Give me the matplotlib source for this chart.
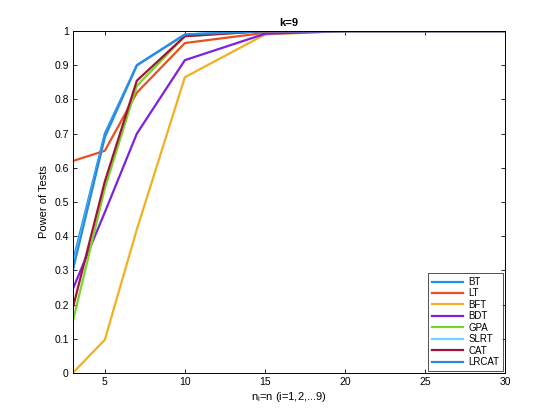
import matplotlib
matplotlib.use("Agg")
import matplotlib.pyplot as plt

plt.rcParams['font.family'] = ['Liberation Sans', 'DejaVu Sans']

# sample sizes n
n_vals = [3, 5, 7, 10, 15, 20, 30]

# power of each test
bt    = [0.325, 0.700, 0.900, 0.990, 1.000, 1.000, 1.000]
lt    = [0.620, 0.650, 0.820, 0.965, 0.995, 1.000, 1.000]
bft   = [0.000, 0.097, 0.420, 0.865, 0.990, 1.000, 1.000]
bdt   = [0.245, 0.470, 0.700, 0.915, 0.992, 1.000, 1.000]
gpa   = [0.150, 0.540, 0.840, 0.985, 1.000, 1.000, 1.000]
slrt  = [0.310, 0.690, 0.900, 0.990, 1.000, 1.000, 1.000]
cat   = [0.190, 0.560, 0.855, 0.985, 1.000, 1.000, 1.000]
lrcat = [0.300, 0.690, 0.900, 0.990, 1.000, 1.000, 1.000]

names = ['BT', 'LT', 'BFT', 'BDT', 'GPA', 'SLRT', 'CAT', 'LRCAT']
series = [bt, lt, bft, bdt, gpa, slrt, cat, lrcat]
colors = ['#1f8ff0', '#e8501e', '#f0b020', '#7a22e0', '#78d428',
          '#6fd8f8', '#a0143a', '#2a8ae0']

fig = plt.figure(figsize=(5.6, 4.2), dpi=100)
ax = fig.add_axes([0.13, 0.112, 0.772, 0.814])

for name, vals, c in zip(names, series, colors):
    ax.plot(n_vals, vals, color=c, lw=1.6, label=name)

ax.set_xlim(3, 30)
ax.set_ylim(0, 1)
ax.set_xticks([5, 10, 15, 20, 25, 30])
ax.set_yticks([i / 10 for i in range(11)])
ax.set_yticklabels(['0'] + ['%.1f' % (i / 10) for i in range(1, 10)] + ['1'])
ax.tick_params(direction='in', top=True, right=True, labelsize=7.5,
               length=3, width=0.6, pad=3)
for s in ax.spines.values():
    s.set_linewidth(0.7)

ax.set_title('k=9', fontsize=8, fontweight='bold', pad=4)
ax.set_xlabel('n$_\\mathregular{i}$=n (i=1,2,...9)', fontsize=8, labelpad=2)
ax.set_ylabel('Power of Tests', fontsize=8, labelpad=4)

leg = ax.legend(loc='lower right', fontsize=7, frameon=True, fancybox=False,
                edgecolor='black', handlelength=3.2, labelspacing=0.15,
                borderpad=0.4, handletextpad=0.5, borderaxespad=0.2)
leg.get_frame().set_linewidth(0.6)

fig.savefig('out.png', dpi=100)
